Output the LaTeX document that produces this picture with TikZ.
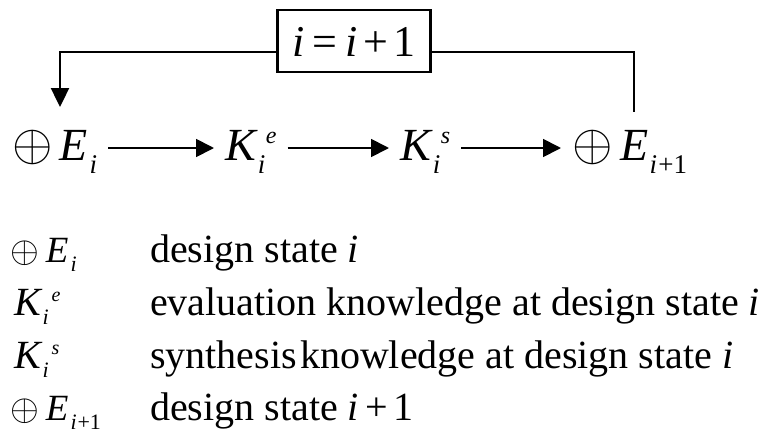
\documentclass[tikz,border=0pt]{standalone}
\usepackage{fontspec}
\setmainfont{Liberation Serif}
\usetikzlibrary{arrows.meta}
\newcommand{\bigopl}{\scalebox{5.2}{\normalsize$\oplus$}}
\newcommand{\smopl}{\scalebox{3.7}{\normalsize$\oplus$}}
\newcommand{\bigsub}[1]{\raisebox{-13pt}{\fontsize{27}{27}\selectfont\itshape #1}}
\newcommand{\bigsup}[1]{\raisebox{17pt}{\fontsize{24}{24}\selectfont\itshape #1}}
\newcommand{\smsub}[1]{\raisebox{-9pt}{\fontsize{22}{22}\selectfont\itshape #1}}
\newcommand{\smsup}[1]{\raisebox{14pt}{\fontsize{20}{20}\selectfont\itshape #1}}
\tikzset{
  mainnode/.style={inner xsep=11pt, inner ysep=0pt, text height=36pt, text depth=12pt,
    font=\fontsize{46}{52}\selectfont, anchor=base west},
  legsym/.style={inner sep=0pt, anchor=base west, font=\fontsize{40}{46}\selectfont},
  legtxt/.style={inner sep=0pt, anchor=base west, font=\fontsize{40}{46}\selectfont},
  flow/.style={line width=1.8pt, -{Triangle[length=18pt,width=18pt]}},
  fbarrow/.style={line width=2.4pt, -{Triangle[length=19pt,width=18pt]}},
  fbline/.style={line width=2.4pt},
  incbox/.style={draw, line width=2.6pt, minimum width=153pt, minimum height=62pt,
    inner sep=0pt, text height=30pt, text depth=0pt, font=\fontsize{44}{50}\selectfont}
}
\begin{document}
\begin{tikzpicture}[x=1pt,y=-1pt]
\fill[white] (0,0) rectangle (764,432);
\useasboundingbox (0,0) rectangle (764,432);
% feedback box
\node[incbox] (inc) at (354,41) {\textit{i}\hspace{0.18em}=\hspace{0.18em}\textit{i}\hspace{0.12em}+\hspace{0.12em}1};
% main row
\node[mainnode] (E0) at (1,160) {\bigopl\hspace{7pt}\textit{E}\hspace{2pt}\bigsub{i}};
\node[mainnode] (Ke) at (214,160) {\textit{K}\rlap{\bigsub{i}}\hspace{8pt}\bigsup{e}};
\node[mainnode] (Ks) at (389,160) {\textit{K}\rlap{\bigsub{i}}\hspace{8pt}\bigsup{s}};
\node[mainnode] (E1) at (561,160) {\bigopl\hspace{8pt}\textit{E}\hspace{1pt}\bigsub{i\hspace{0.04em}\upshape+1}};
\coordinate (fbL) at (60,107);
\coordinate (fbR) at (634,112);
\draw[flow] (E0) -- (Ke);
\draw[flow] (Ke) -- (Ks);
\draw[flow] (Ks) -- (E1);
\draw[fbarrow] ([yshift=-11pt]inc.west) -| (fbL);
\draw[fbline] ([yshift=-11pt]inc.east) -| (fbR);
% legend
\node[legsym, font=\fontsize{37}{42}\selectfont] (s1) at (10,262) {\smopl\hspace{7pt}\textit{E}\hspace{2pt}\smsub{i}};
\node[legsym] (s2) at (14,315) {\textit{K}\rlap{\smsub{i}}\hspace{9pt}\smsup{e}};
\node[legsym] (s3) at (14,368) {\textit{K}\rlap{\smsub{i}}\hspace{9pt}\smsup{s}};
\node[legsym, font=\fontsize{37}{42}\selectfont] (s4) at (10,420) {\smopl\hspace{7pt}\textit{E}\hspace{2pt}\smsub{i\hspace{0.04em}\upshape+1}};
\node[legtxt] (t1) at (150,262) {design state \textit{i}};
\node[legtxt] (t2) at (150,315) {evaluation knowledge at design state \textit{i}};
\node[legtxt] (t3) at (150,368) {synthesis\hspace{0.08em}knowledge at design state \textit{i}};
\node[legtxt] (t4) at (150,420) {design state \textit{i}\hspace{0.15em}+\hspace{0.15em}1};
\end{tikzpicture}
\end{document}
